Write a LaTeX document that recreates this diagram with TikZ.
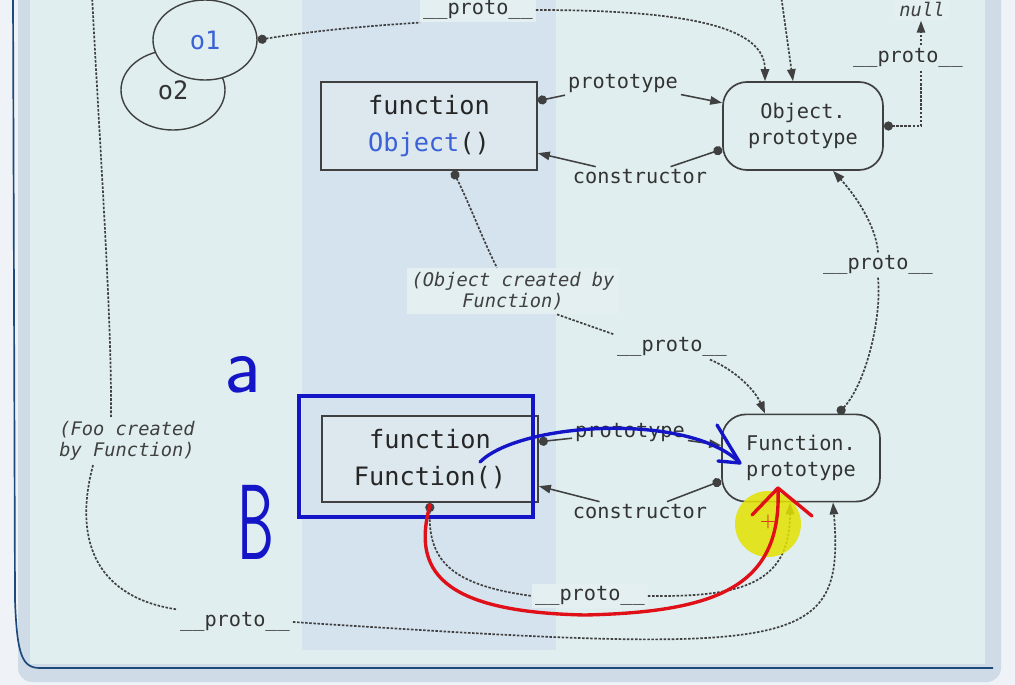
\documentclass[tikz,border=0pt]{standalone}
\usepackage{fontspec}
\setmonofont{DejaVu Sans Mono}
\usetikzlibrary{arrows.meta,shapes.geometric}
\definecolor{pagebg}{HTML}{EFF2F6}
\definecolor{shadowbg}{HTML}{CFDCE8}
\definecolor{panelbg}{HTML}{E0EEEF}
\definecolor{stripebg}{HTML}{D5E3EF}
\definecolor{labelbg}{HTML}{E3EFF0}
\definecolor{boxbg}{HTML}{DCE8EE}
\definecolor{framec}{HTML}{1D4A7A}
\definecolor{linec}{HTML}{404040}
\definecolor{codeblue}{HTML}{3A62D6}
\definecolor{penblue}{HTML}{1515C8}
\definecolor{penred}{HTML}{E01018}
\definecolor{marker}{HTML}{E3E300}
\begin{document}
\begin{tikzpicture}[
  x=0.025cm, y=-0.025cm,
  fnbox/.style={draw=linec, line width=1.2pt, fill=boxbg, minimum width=5.4cm, minimum height=2.2cm, align=center, text=black!85, font=\ttfamily\fontsize{18}{26}\selectfont},
  protobox/.style={draw=linec, line width=1.2pt, fill=panelbg, rounded corners=0.6cm, minimum width=4cm, minimum height=2.2cm, align=center, text=black!80, font=\ttfamily\fontsize{14.4}{19}\selectfont},
  oval/.style={ellipse, draw=linec, line width=1pt, fill=panelbg, minimum width=2.6cm, minimum height=2cm, text=black!80, font=\ttfamily\fontsize{18}{20}\selectfont},
  lbl/.style={fill=panelbg, inner sep=2pt, text=black!80, font=\ttfamily\fontsize{14.4}{17}\selectfont},
  note/.style={fill=labelbg, inner sep=3pt, align=center, text=black!75, font=\ttfamily\itshape\fontsize{13.3}{15}\selectfont},
  sline/.style={draw=linec, line width=1.1pt},
  dline/.style={draw=linec, line width=1.2pt, dash pattern=on 1.8pt off 1.1pt},
  dotstart/.style={{Circle[length=6.5pt]}-},
  tipend/.style={-{Triangle[length=8.5pt,width=6pt]}},
  pen/.style={line width=2.4pt, line cap=round, line join=round}
]
  \useasboundingbox (0,0) rectangle (1015,685);
  \clip (0,0) rectangle (1015,685);

  % page and panel
  \fill[pagebg] (0,0) rectangle (1015,685);
  \fill[shadowbg, rounded corners=10pt] (18,-30) rectangle (1001,682);
  \fill[panelbg] (30,-30) rectangle (985,664);
  \fill[stripebg] (302,-30) rectangle (556,650);
  \draw[framec, line width=1.2pt] (13,-5) -- (15,600) .. controls (17,655) and (22,668) .. (40,668) -- (993,668);

  % objects
  \node[oval] (o2) at (173,90) {o2};
  \node[oval, text=codeblue] (o1) at (205,40) {o1};
  \node[fnbox] (objfn) at (429,126) {function\\\textcolor{codeblue}{Object}()};
  \node[protobox] (objproto) at (803,126) {Object.\\prototype};
  \node[fnbox, minimum height=2.15cm] (fnfn) at (430,459) {function\\Function()};
  \node[protobox, minimum width=3.95cm, minimum height=2.18cm] (fnproto) at (801,458) {Function.\\prototype};
  \node[note, fill=labelbg] (null) at (922,9) {null};

  % labels
  \node[lbl] (lproto1) at (623,83) {prototype};
  \node[lbl] (lcons1) at (640,177) {constructor};
  \node[lbl] (lproto2) at (630,432) {prototype};
  \node[lbl] (lcons2) at (640,512) {constructor};
  \node[lbl, fill=labelbg] (ptop) at (478,10) {\_\_proto\_\_};
  \node[lbl] (pnull) at (908,58) {\_\_proto\_\_};
  \node[lbl] (pobj) at (878,265) {\_\_proto\_\_};
  \node[lbl] (pfn) at (672,347) {\_\_proto\_\_};
  \node[lbl, fill=labelbg] (pff) at (590,596) {\_\_proto\_\_};
  \node[lbl] (pfoo) at (235,622) {\_\_proto\_\_};
  \node[note] (lobjc) at (513,291) {(Object created by\\Function)};
  \node[note, fill=panelbg] (lfoo) at (127,441) {(Foo created\\by Function)};

  % prototype / constructor
  \draw[sline, dotstart] (objfn.13.5) -- (lproto1);
  \draw[sline, tipend] (lproto1) -- (objproto.164.6);
  \draw[sline, dotstart] (objproto.196.5) -- (lcons1);
  \draw[sline, tipend] (lcons1) -- (objfn.-14.5);
  \draw[sline, dotstart] (fnfn.9.5) -- (lproto2);
  \draw[sline, tipend] (lproto2) -- (fnproto.171.5);
  \draw[sline, dotstart] (fnproto.196) -- (lcons2);
  \draw[sline, tipend] (lcons2) -- (fnfn.-14.5);

  % __proto__ chains
  \draw[dline, dotstart] (o1.east) .. controls (330,28) and (400,24) .. (ptop.south west);
  \draw[dline, tipend] (ptop.east) .. controls (700,10) and (765,30) .. ([xshift=-0.95cm]objproto.north);
  \coordinate (topin) at (781,-5);
  \draw[dline, tipend] (topin) -- ([xshift=-0.25cm]objproto.north);
  \coordinate (nullbend) at (921,126);
  \draw[dline, dotstart] (objproto.east) -- (nullbend) -- (nullbend |- pnull.south);
  \draw[dline, tipend] (nullbend |- pnull.north) -- (nullbend |- null.south);
  \draw[dline, dotstart] ([xshift=0.925cm]fnproto.north) .. controls (865,385) and (882,320) .. (pobj.south);
  \draw[dline, tipend] (pobj.north) .. controls (876,225) and (855,195) .. ([xshift=0.75cm]objproto.south);
  \draw[dline, dotstart] ([xshift=0.6cm]objfn.south) .. controls (470,205) and (485,245) .. ([xshift=-0.4cm]lobjc.north);
  \draw[dline] ([xshift=1.1cm]lobjc.south) -- (pfn.north west);
  \draw[dline, tipend] ([xshift=-0.5cm]pfn.south east) .. controls (735,370) and (755,390) .. ([xshift=-0.9cm]fnproto.north);
  \draw[dline, dotstart] (fnfn.south) .. controls (428,560) and (450,585) .. (pff.west);
  \draw[dline, tipend] (pff.east) .. controls (740,597) and (790,585) .. ([xshift=-0.275cm]fnproto.south);
  \coordinate (footop) at (92,-5);
  \draw[dline] (footop) .. controls (100,150) and (112,320) .. ([xshift=-0.4cm]lfoo.north);
  \draw[dline] ([xshift=-0.85cm]lfoo.south) .. controls (72,545) and (100,598) .. (pfoo.north west);
  \draw[dline, tipend] (pfoo.east) .. controls (800,655) and (845,652) .. ([xshift=0.8cm]fnproto.south);

  % pen marks
  \node[draw=penblue, line width=2.4pt, minimum width=5.85cm, minimum height=3.025cm] (mark) at (416,456.5) {};
  \node[text=penblue, inner sep=0pt, font=\sffamily\fontsize{58}{60}\selectfont] (marka) at (243,375) {a};
  \node[text=penblue, inner sep=0pt, font=\sffamily\fontsize{76}{80}\selectfont] (markb) at (256,522) {\scalebox{0.55}[1]{B}};
  \coordinate (bluestart) at (480,462);
  \coordinate (bluetip) at (740,463);
  \draw[pen, draw=penblue] (bluestart) .. controls (520,422) and (690,412) .. (bluetip);
  \draw[pen, draw=penblue] (717,425) -- (bluetip) -- (718,461);
  \fill[marker, opacity=0.85] (768,524) circle (0.825cm);
  \coordinate (redstart) at (430,505);
  \coordinate (redtip) at (778,488);
  \draw[pen, draw=penred] (redstart) .. controls (412,570) and (440,612) .. (585,615) .. controls (720,612) and (782,585) .. (redtip);
  \draw[pen, draw=penred] (752,515) -- (redtip) -- (812,516);
  \node[text=penred, inner sep=0pt, font=\sffamily\fontsize{16}{16}\selectfont] (plus) at (768,522) {+};
\end{tikzpicture}
\end{document}
